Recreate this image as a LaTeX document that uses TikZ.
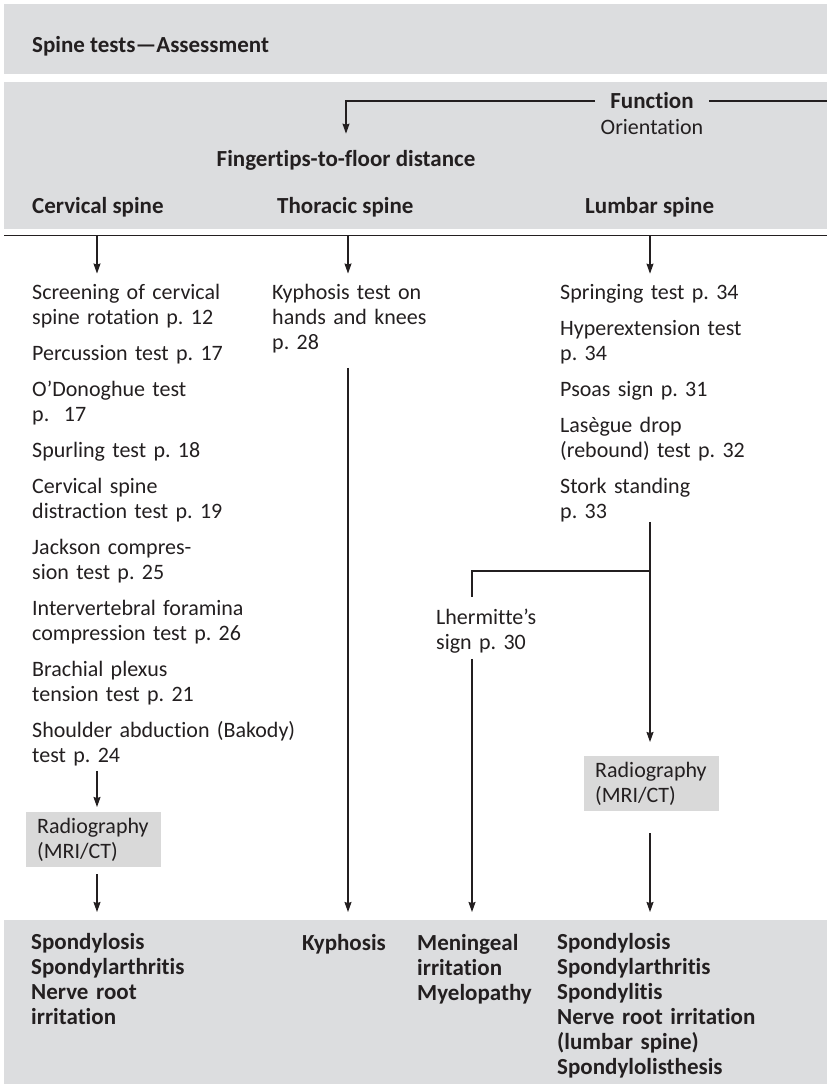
\documentclass[tikz,border=0pt]{standalone}
\usepackage{fontspec}
\setmainfont{Carlito}[Ligatures=NoCommon]
\frenchspacing
\usetikzlibrary{arrows.meta,calc}
\definecolor{bandgray}{RGB}{220,221,223}
\definecolor{boxgray}{RGB}{217,217,217}
\definecolor{ink}{RGB}{35,31,32}

\begin{document}
\begin{tikzpicture}[x=1pt, y=-1pt,
  txt/.style={anchor=base west, inner sep=0pt, align=left, text=ink, font=\fontsize{22}{25}\selectfont},
  head/.style={anchor=base west, inner sep=0pt, align=left, text=ink, font=\bfseries\fontsize{23}{25}\selectfont},
  radbox/.style={txt, anchor=north west, fill=boxgray, inner xsep=11pt, inner ysep=0pt, text width=113pt, minimum height=55pt},
  ln/.style={draw=ink, line width=1.2pt},
  arr/.style={ln, -{Stealth[length=10pt, width=7pt, inset=1pt]}}]
\useasboundingbox (0,0) rectangle (827,1087);

%draw grey bands
\fill[bandgray] (4,4) rectangle (827,74);
\fill[bandgray] (4,82) rectangle (827,229);
\fill[bandgray] (4,920) rectangle (827,1084);
\coordinate (bandtop) at (0,920);

%headings
\node[head] (title) at (32,52) {Spine tests---Assessment};
\node[head, anchor=center, inner xsep=15pt] (fn) at (652,101) {Function};
\node[txt, anchor=center] (orient) at (652,127) {Orientation};
\node[head, anchor=base] (ftf) at (346,166) {Fingertips-to-floor distance};
\node[head] (cvhead) at (32,213) {Cervical spine};
\node[head] (thhead) at (277,213) {Thoracic spine};
\node[head] (lmhead) at (585,213) {Lumbar spine};
\coordinate (fnend) at (827,101);
\draw[ln] (fn.east) -- (fnend);
\draw[arr, shorten >=16pt] (fn.west) -| (ftf.north);

%draw horizontal line
\coordinate (rulel) at (4,235.5);
\coordinate (ruler) at (827,235.5);
\draw[ln] (rulel) -- (ruler);

%test lists
\node[txt, text width=300pt] (cvlist) at (32,299) {Screening of cervical\\spine rotation p. 12\\[11pt]
  Percussion test p. 17\\[11pt]
  O’Donoghue test\\p.~ 17\\[11pt]
  Spurling test p. 18\\[11pt]
  Cervical spine\\distraction test p. 19\\[11pt]
  Jackson compres-\\sion test p. 25\\[11pt]
  Intervertebral foramina\\compression test p. 26\\[11pt]
  Brachial plexus\\tension test p. 21\\[11pt]
  Shoulder abduction (Bakody)\\test p. 24};
\node[txt, text width=200pt] (thlist) at (272,299) {Kyphosis test on\\hands and knees\\p. 28};
\node[txt, text width=240pt] (lmlist) at (560,299) {Springing test p. 34\\[11pt]
  Hyperextension test\\p. 34\\[11pt]
  Psoas sign p. 31\\[11pt]
  Lasègue drop\\(rebound) test p. 32\\[11pt]
  Stork standing\\p. 33};
\node[txt, text width=130pt] (lhsign) at (436,624) {Lhermitte’s\\sign p. 30};
\node[radbox] (cvrad) at (26,812) {Radiography\\(MRI/CT)};
\node[radbox] (lmrad) at (584,756) {Radiography\\(MRI/CT)};

%findings
\node[head, text width=220pt] (cvres) at (31,949) {Spondylosis\\Spondylarthritis\\Nerve root\\irritation};
\node[head, text width=110pt] (kyres) at (302,950) {Kyphosis};
\node[head, text width=130pt] (mgres) at (417,950) {Meningeal\\irritation\\Myelopathy};
\node[head, text width=260pt] (lmres) at (557,949) {Spondylosis\\Spondylarthritis\\Spondylitis\\Nerve root irritation\\(lumbar spine)\\Spondylolisthesis};

%draw arrows from the line
\foreach \x/\n in {97/cv, 348/th, 650/lm}{
   \coordinate (top\n) at (\x,235.5);
   \draw[arr, shorten >=10pt] (top\n) -- (top\n |- \n list.north);
}
\draw[arr, shorten <=5pt, shorten >=5pt] (topcv |- cvlist.south) -- (topcv |- cvrad.north);
\draw[arr, shorten <=7pt, shorten >=8pt] (topcv |- cvrad.south) -- (topcv |- bandtop);
\draw[arr, shorten <=15pt, shorten >=8pt] (topth |- thlist.south) -- (topth |- bandtop);
\draw[arr, shorten >=14pt] (toplm |- lmlist.south) -- (toplm |- lmrad.north);
\draw[arr, shorten <=22pt, shorten >=8pt] (toplm |- lmrad.south) -- (toplm |- bandtop);
\coordinate (lmfork) at (650,571);
\coordinate (mgfork) at (472,571);
\draw[ln, shorten >=11pt] (lmfork) -- (mgfork) -- (mgfork |- lhsign.north);
\draw[arr, shorten <=6pt, shorten >=8pt] (mgfork |- lhsign.south) -- (mgfork |- bandtop);
\end{tikzpicture}
\end{document}
